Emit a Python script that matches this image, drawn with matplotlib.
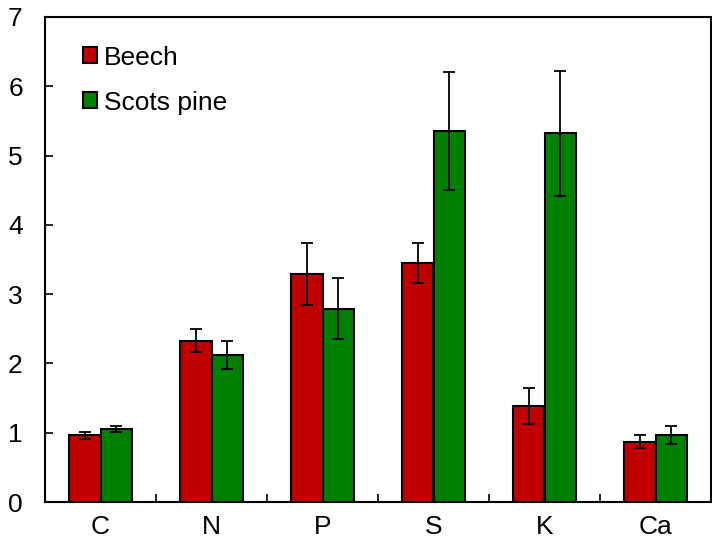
import numpy as np
import matplotlib
matplotlib.use('Agg')
import matplotlib.pyplot as plt

# dados
elementos = ['C', 'N', 'P', 'S', 'K', 'Ca']
faia = [0.96, 2.33, 3.29, 3.45, 1.38, 0.87]
faia_erro = [0.05, 0.17, 0.45, 0.29, 0.26, 0.095]
pinheiro = [1.05, 2.12, 2.79, 5.36, 5.32, 0.97]
pinheiro_erro = [0.04, 0.20, 0.44, 0.85, 0.90, 0.13]

COR_FAIA = '#C00000'
COR_PINHEIRO = '#008000'

plt.rcParams['font.family'] = ['Liberation Sans', 'DejaVu Sans']

fig = plt.figure(figsize=(7.12, 5.45), dpi=100)
ax = fig.add_axes([45 / 712, 43 / 545, 666 / 712, 485 / 545])

x = np.arange(len(elementos))
w = 0.288
err_kw = dict(ecolor='black', elinewidth=1.3, capsize=4.5, capthick=1.3, zorder=4)

ax.bar(x - w / 2, faia, w, color=COR_FAIA, edgecolor='black', linewidth=1.5,
       yerr=faia_erro, error_kw=err_kw, label='Beech', zorder=3)
ax.bar(x + w / 2, pinheiro, w, color=COR_PINHEIRO, edgecolor='black', linewidth=1.5,
       yerr=pinheiro_erro, error_kw=err_kw, label='Scots pine', zorder=3)

ax.set_xlim(-0.5, len(elementos) - 0.5)
ax.set_ylim(0, 7)
ax.set_yticks(range(0, 8))

ax.set_xticks(x)
ax.set_xticklabels(elementos)
ax.set_xticks(np.arange(0.5, len(elementos) - 0.5), minor=True)
ax.tick_params(axis='x', which='major', length=0, pad=9, labelsize=19)
ax.tick_params(axis='x', which='minor', direction='in', length=6, width=1.2)
ax.tick_params(axis='y', direction='in', length=6, width=1.2, pad=16, labelsize=19)

for s in ax.spines.values():
    s.set_linewidth(1.5)

leg = ax.legend(loc='upper left', bbox_to_anchor=(0.029, 0.979), frameon=False,
                fontsize=19, handlelength=0.55, handleheight=0.55,
                handletextpad=0.25, labelspacing=0.8, borderaxespad=0.3)

plt.savefig('out.png', dpi=100)
plt.close()
